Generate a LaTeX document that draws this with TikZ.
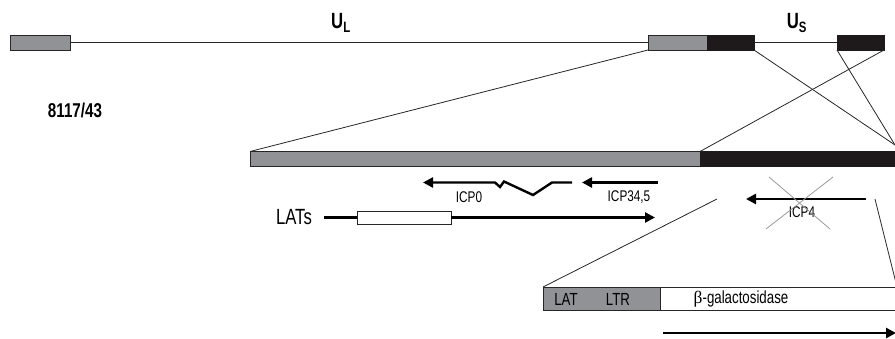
\documentclass[tikz,border=0pt]{standalone}
\usepackage{fontspec}
\setmainfont{Liberation Sans}[FakeStretch=0.76]
\newfontfamily\betafont{Liberation Serif}
\usetikzlibrary{arrows.meta}
\definecolor{gbox}{RGB}{145,146,150}
\definecolor{kbox}{RGB}{30,26,28}
\tikzset{
  seg/.style={draw=black!85, line width=0.9pt, minimum height=15pt, inner sep=0pt, outer sep=0pt},
  greyseg/.style={seg, fill=gbox},
  blackseg/.style={seg, fill=kbox, draw=kbox},
  whiteseg/.style={seg, fill=white},
  thinline/.style={line width=0.8pt, draw=black!85},
  gene/.style={line width=2.6pt, -{Triangle[length=10pt,width=10pt]}, shorten >=-1pt},
  lbl/.style={inner sep=0pt, font=\fontsize{15.5}{17}\selectfont},
  boxlbl/.style={inner sep=0pt, font=\fontsize{17.5}{19}\selectfont},
  big/.style={inner sep=0pt, font=\bfseries\fontsize{22}{24}\selectfont},
  cross/.style={line width=0.8pt, draw=black!40},
}
\begin{document}
\begin{tikzpicture}[x=1pt,y=-1pt]
\useasboundingbox (0,0) rectangle (895,338);
\clip (0,0) rectangle (895,338);
% top genome
\node[greyseg, minimum width=60pt] (tl) at (40,42.5) {};
\node[greyseg, minimum width=59pt] (tg) at (677.5,42.5) {};
\node[blackseg, minimum width=47pt] (tb1) at (730.5,42.5) {};
\node[blackseg, minimum width=47pt] (tb2) at (860.5,42.5) {};
\draw[thinline] (tl.east) -- (tg.west);
\draw[thinline] (tb1.east) -- (tb2.west);
\node[big] (ul) at (341,23) {U\textsubscript{\fontsize{15}{15}\selectfont L}};
\node[big] (us) at (797,23) {U\textsubscript{\fontsize{15}{15}\selectfont S}};
\node[inner sep=0pt, font=\bfseries\fontsize{20}{22}\selectfont] (id) at (75,110) {8117/43};
% middle bar
\node[greyseg, minimum width=450pt] (mg) at (475,159) {};
\node[blackseg, minimum width=200pt] (mb) at (800,159) {};
\coordinate (conv) at (895,145);
\draw[thinline] (tg.south west) -- (mg.north west);
\draw[thinline] (tb1.south east) -- (conv);
\draw[thinline] (tb2.south west) -- (conv);
\draw[thinline] (tb2.south east) -- (mb.north west);
% genes
\coordinate (icp0s) at (572,182.5);
\coordinate (icp0e) at (424,182.5);
\draw[gene, line width=2.4pt] (icp0s) -- (552,182.5) -- (533,195) -- (504,181.5) -- (500,187) -- (495,182.5) -- (icp0e);
\node[lbl] (licp0) at (469,197) {ICP0};
\coordinate (icp34s) at (658,182.5);
\coordinate (icp34e) at (583,182.5);
\draw[gene] (icp34s) -- (icp34e);
\node[lbl] (licp34) at (629,197.5) {ICP34,5};
\node[inner sep=0pt, font=\fontsize{22}{24}\selectfont] (lats) at (294,217.5) {LATs};
\node[whiteseg, minimum width=94pt, minimum height=13pt, line width=1pt] (latbox) at (404,217.5) {};
\coordinate (latsend) at (654,217.5);
\draw[line width=2.4pt] ([xshift=-33pt]latbox.west) -- (latbox.west);
\draw[gene] (latbox.east) -- (latsend);
\coordinate (icp4s) at (866,199);
\coordinate (icp4e) at (747,199);
\draw[gene] (icp4s) -- (icp4e);
\node[lbl] (licp4) at (802,212) {ICP4};
\draw[cross] (769,177) -- (830,229);
\draw[cross] (833,177) -- (766,229);
% bottom insert
\node[greyseg, minimum width=117pt, minimum height=23pt] (bg) at (601.5,298.5) {};
\node[whiteseg, minimum width=260pt, minimum height=23pt] (bw) at (790,298.5) {};
\node[boxlbl] (lat) at (566,299) {LAT};
\node[boxlbl] (ltr) at (618,299) {LTR};
\node[boxlbl] (bgal) at (741,299) {{\betafont β}-galactosidase};
\coordinate (zl) at (717,199);
\coordinate (zr) at (875,199);
\coordinate (zrb) at (897,287);
\draw[thinline] (zl) -- (bg.north west);
\draw[thinline] (zr) -- (zrb);
\coordinate (bas) at (663,333);
\coordinate (bae) at (895,333);
\draw[gene] (bas) -- (bae);
\end{tikzpicture}
\end{document}
